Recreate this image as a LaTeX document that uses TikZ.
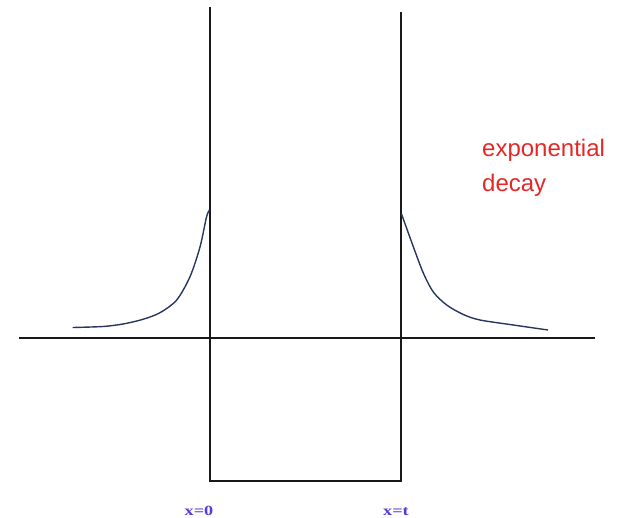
\documentclass[tikz,border=0pt]{standalone}
\usepackage{fontspec}
\newfontfamily\labelsans{Liberation Sans}
\newfontfamily\labelserif{Liberation Serif}
\definecolor{axisc}{RGB}{25,25,25}
\definecolor{curvec}{RGB}{40,55,95}
\definecolor{redtxt}{RGB}{228,40,40}
\definecolor{bluetxt}{RGB}{85,60,220}
\tikzset{
  axisline/.style={draw=axisc,line width=1.4pt},
  decaycurve/.style={draw=curvec,line width=1.4pt,smooth},
  redlabel/.style={text=redtxt,font=\labelsans\fontsize{24}{26}\selectfont,anchor=base west,inner sep=0pt},
  bluelabel/.style={text=bluetxt,font=\labelserif\bfseries\fontsize{14}{15}\selectfont,xscale=1.3,anchor=base,inner sep=0pt}
}
\begin{document}
\begin{tikzpicture}[x=1pt,y=-1pt]
\useasboundingbox (0,0) rectangle (617,518);
% coordinates
\coordinate (axL) at (19,338);
\coordinate (axR) at (595,338);
\coordinate (lTop) at (210,7);
\coordinate (rTop) at (401,12);
\coordinate (lBot) at (210,481);
\coordinate (rBot) at (401,481);
% axis and well
\draw[axisline] (axL) -- (axR);
\draw[axisline] (lTop) -- (lBot) -- (rBot) -- (rTop);
% left decay curve
\draw[decaycurve] plot[smooth,tension=0.5] coordinates {(72.7,327.5) (103,326.5) (123,324) (143,319.3) (160,312.7) (176.7,300) (190,276.7) (200,247) (206.5,217) (209.5,210)};
% right decay curve
\draw[decaycurve] plot[smooth,tension=0.5] coordinates {(401.5,214) (413.3,246.7) (423.3,273) (433.3,292) (446.7,305) (463.3,314.5) (480,320) (513.3,325) (548,330)};
% labels
\node[redlabel] (t1) at (482,157) {exponential};
\node[redlabel] (t2) at (482,192) {decay};
\node[bluelabel] (x0) at (199,515) {x=0};
\node[bluelabel] (xt) at (396,515) {x=t};
\end{tikzpicture}
\end{document}
